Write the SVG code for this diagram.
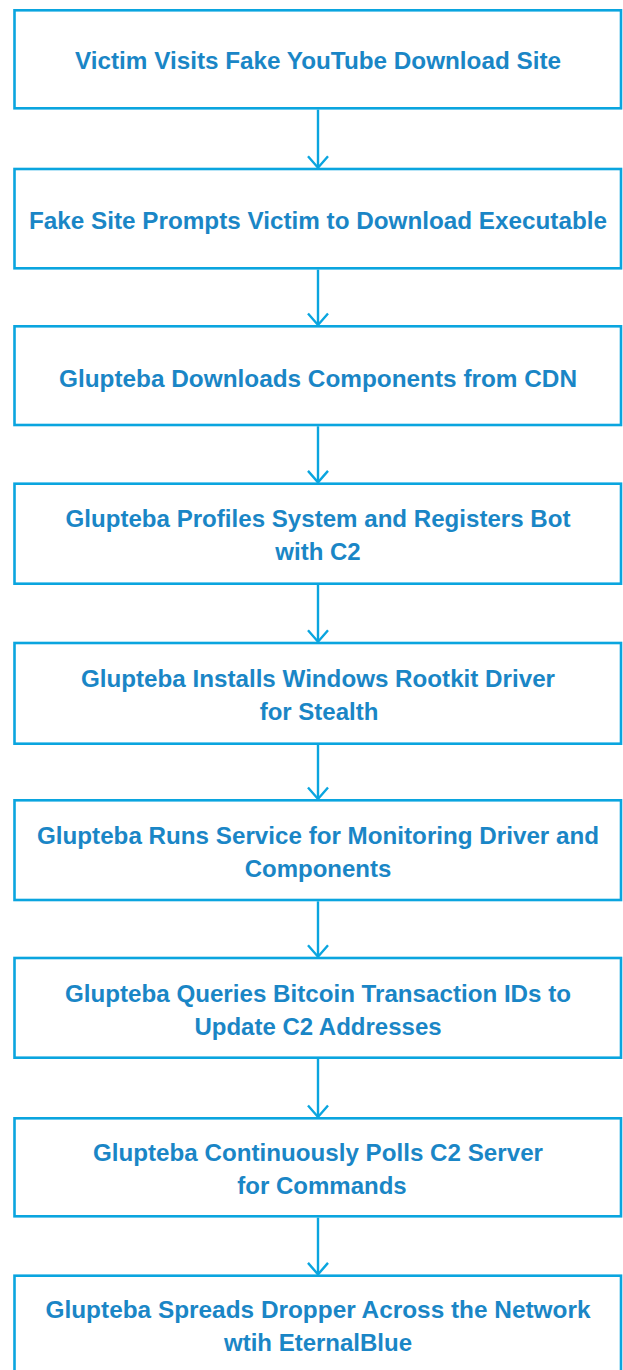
<svg xmlns="http://www.w3.org/2000/svg" width="623" height="1370" viewBox="0 0 623 1370">
  <style>
    .box { fill: #ffffff; stroke: #0aa5df; stroke-width: 2.6; }
    .label { font-family: "Liberation Sans", Arial, sans-serif; font-weight: bold; font-size: 24px; fill: #1a86c6; text-anchor: middle; }
    .conn { fill: none; stroke: #0aa5df; stroke-width: 2.4; }
  </style>
  <defs>
    <marker id="chevron" markerUnits="userSpaceOnUse" viewBox="-2 -2 16 24" markerWidth="16" markerHeight="24" refX="12" refY="10" orient="auto">
      <path d="M0.5,0 L12,10 L0.5,20" fill="none" stroke="#0aa5df" stroke-width="2.4"/>
    </marker>
  </defs>

  <rect width="623" height="1370" fill="#ffffff"/>

  <!-- connectors -->
  <g id="connectors">
    <line class="conn" x1="318" y1="109.6" x2="318" y2="167.7" marker-end="url(#chevron)"/>
    <line class="conn" x1="318" y1="269.6" x2="318" y2="325" marker-end="url(#chevron)"/>
    <line class="conn" x1="318" y1="426.3" x2="318" y2="482.4" marker-end="url(#chevron)"/>
    <line class="conn" x1="318" y1="585" x2="318" y2="641.7" marker-end="url(#chevron)"/>
    <line class="conn" x1="318" y1="745" x2="318" y2="799" marker-end="url(#chevron)"/>
    <line class="conn" x1="318" y1="901.3" x2="318" y2="956.7" marker-end="url(#chevron)"/>
    <line class="conn" x1="318" y1="1059" x2="318" y2="1117" marker-end="url(#chevron)"/>
    <line class="conn" x1="318" y1="1217.6" x2="318" y2="1274.4" marker-end="url(#chevron)"/>
  </g>

  <!-- steps -->
  <g id="step1">
    <rect class="box" x="14.5" y="10.3" width="606.5" height="98"/>
    <text class="label" x="318" y="69.3" textLength="486" lengthAdjust="spacingAndGlyphs">Victim Visits Fake YouTube Download Site</text>
  </g>
  <g id="step2">
    <rect class="box" x="14.5" y="169" width="606.5" height="99.3"/>
    <text class="label" x="318" y="228.8" textLength="578" lengthAdjust="spacingAndGlyphs">Fake Site Prompts Victim to Download Executable</text>
  </g>
  <g id="step3">
    <rect class="box" x="14.5" y="326.3" width="606.5" height="98.7"/>
    <text class="label" x="318" y="386.7" textLength="518" lengthAdjust="spacingAndGlyphs">Glupteba Downloads Components from CDN</text>
  </g>
  <g id="step4">
    <rect class="box" x="14.5" y="483.7" width="606.5" height="100"/>
    <text class="label" x="318" y="527.4" textLength="505" lengthAdjust="spacingAndGlyphs">Glupteba Profiles System and Registers Bot</text>
    <text class="label" x="318" y="560.4">with C2</text>
  </g>
  <g id="step5">
    <rect class="box" x="14.5" y="643" width="606.5" height="100.7"/>
    <text class="label" x="318" y="686.8" textLength="474" lengthAdjust="spacingAndGlyphs">Glupteba Installs Windows Rootkit Driver</text>
    <text class="label" x="319" y="719.8">for Stealth</text>
  </g>
  <g id="step6">
    <rect class="box" x="14.5" y="800.3" width="606.5" height="99.7"/>
    <text class="label" x="318" y="844" textLength="562" lengthAdjust="spacingAndGlyphs">Glupteba Runs Service for Monitoring Driver and</text>
    <text class="label" x="318" y="877">Components</text>
  </g>
  <g id="step7">
    <rect class="box" x="14.5" y="958" width="606.5" height="99.7"/>
    <text class="label" x="318" y="1001.5" textLength="506" lengthAdjust="spacingAndGlyphs">Glupteba Queries Bitcoin Transaction IDs to</text>
    <text class="label" x="318" y="1034.5">Update C2 Addresses</text>
  </g>
  <g id="step8">
    <rect class="box" x="14.5" y="1118.3" width="606.5" height="98"/>
    <text class="label" x="318" y="1161.2" textLength="450" lengthAdjust="spacingAndGlyphs">Glupteba Continuously Polls C2 Server</text>
    <text class="label" x="322" y="1194.2">for Commands</text>
  </g>
  <g id="step9">
    <rect class="box" x="14.5" y="1275.7" width="606.5" height="99"/>
    <text class="label" x="318" y="1318" textLength="545" lengthAdjust="spacingAndGlyphs">Glupteba Spreads Dropper Across the Network</text>
    <text class="label" x="318" y="1351">wtih EternalBlue</text>
  </g>
</svg>
